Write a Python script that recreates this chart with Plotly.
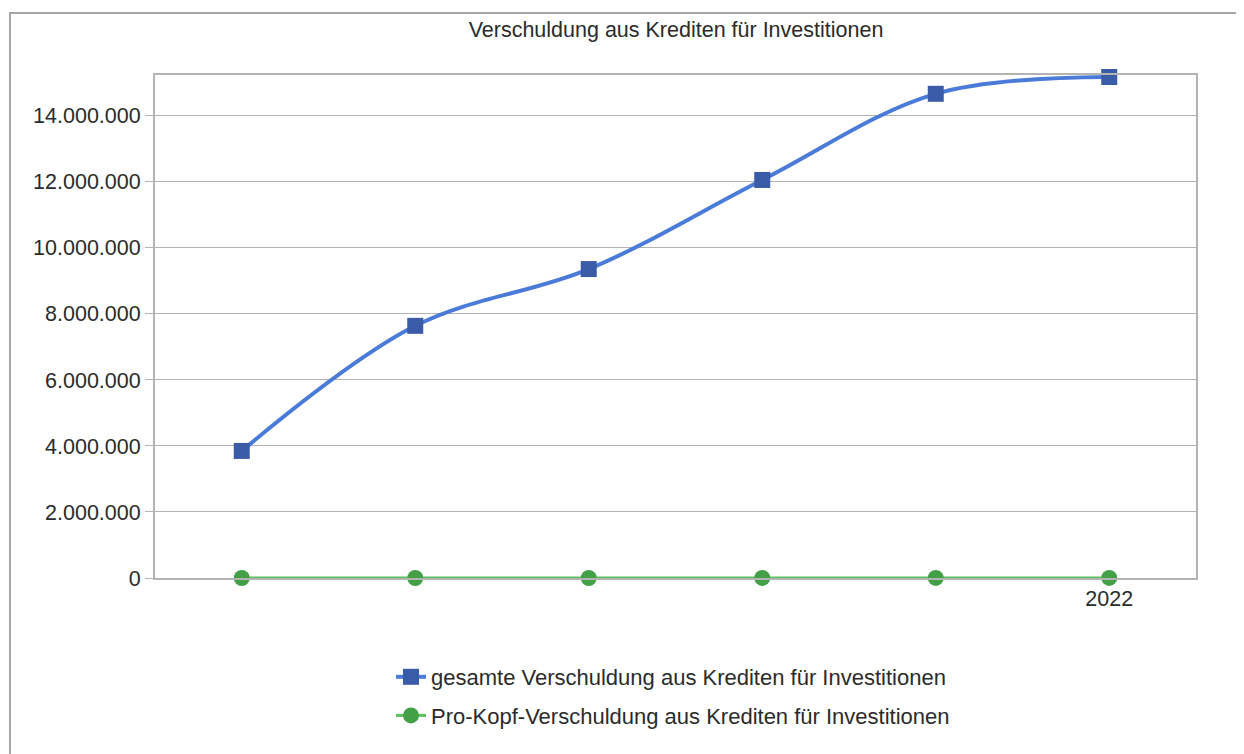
import plotly.graph_objects as go

# Daten
jahre = ["2017", "2018", "2019", "2020", "2021", "2022"]
jahr_beschriftung = ["", "", "", "", "", "2022"]
gesamt = [3850000, 7640000, 9360000, 12060000, 14670000, 15180000]
pro_kopf = [385, 762, 934, 1203, 1462, 1511]

titel = "Verschuldung aus Krediten für Investitionen"
name_gesamt = "gesamte Verschuldung aus Krediten für Investitionen"
name_pro_kopf = "Pro-Kopf-Verschuldung aus Krediten für Investitionen"

# Seite hat 8px Rand, Figur beginnt bei (8, 8)
OFF = 8
W, H = 1236, 746
L, R, T, B = 155 - OFF, 48, 75 - OFF, 176
pw, ph = W - L - R, H - T - B


def px_x(x):
    return (x - OFF - L) / pw


def px_y(y):
    return (H - B - (y - OFF)) / ph


fig = go.Figure()
fig.add_trace(go.Scatter(
    x=jahre, y=gesamt, name=name_gesamt, legendgroup="a",
    mode="lines+markers", cliponaxis=False,
    line=dict(color="#4a7bd8", width=4, shape="spline", smoothing=1.0),
    marker=dict(symbol="square", size=16, color="#3a5ba8",
                line=dict(width=0)),
))
fig.add_trace(go.Scatter(
    x=jahre, y=pro_kopf, name=name_pro_kopf, legendgroup="b",
    mode="lines+markers", cliponaxis=False,
    line=dict(color="#5cc15c", width=3, shape="spline"),
    marker=dict(symbol="circle", size=16, color="#43a047",
                line=dict(width=0)),
))

# äußerer Rahmen
fig.add_shape(type="rect", xref="paper", yref="paper",
              x0=px_x(10), x1=px_x(1260), y0=px_y(770), y1=px_y(13),
              line=dict(color="#a6a6a6", width=2), layer="below")

fig.update_layout(
    width=W, height=H,
    margin=dict(l=L, r=R, t=T, b=B),
    paper_bgcolor="white", plot_bgcolor="white",
    font=dict(family="Liberation Sans, Arial, sans-serif", size=21.5, color="#2b2b2b"),
    separators=",.",
    title=dict(text=titel, xref="paper", x=px_x(676), xanchor="center",
               y=1 - (29 - OFF) / H, yanchor="middle",
               font=dict(size=21.5, color="#2b2b2b")),
    showlegend=True,
    legend=dict(x=px_x(391), y=px_y(656), xanchor="left", yanchor="top",
                orientation="v", tracegroupgap=7,
                font=dict(size=22, color="#2b2b2b"), itemwidth=30),
    xaxis=dict(type="category", tickvals=jahre, ticktext=jahr_beschriftung,
               showgrid=False, showline=True, linecolor="#b3b3b3", linewidth=2,
               mirror=True, ticks="", zeroline=False,
               range=[-0.5, 5.5]),
    yaxis=dict(range=[0, 15240000], tickvals=[0, 2e6, 4e6, 6e6, 8e6, 10e6, 12e6, 14e6],
               tickformat=",d", showgrid=True, gridcolor="#b3b3b3", gridwidth=1,
               showline=True, linecolor="#b3b3b3", linewidth=2, mirror=True,
               ticks="outside", ticklen=8, tickcolor="#b3b3b3",
               zeroline=False, fixedrange=True),
)

fig.write_html("out.html")
